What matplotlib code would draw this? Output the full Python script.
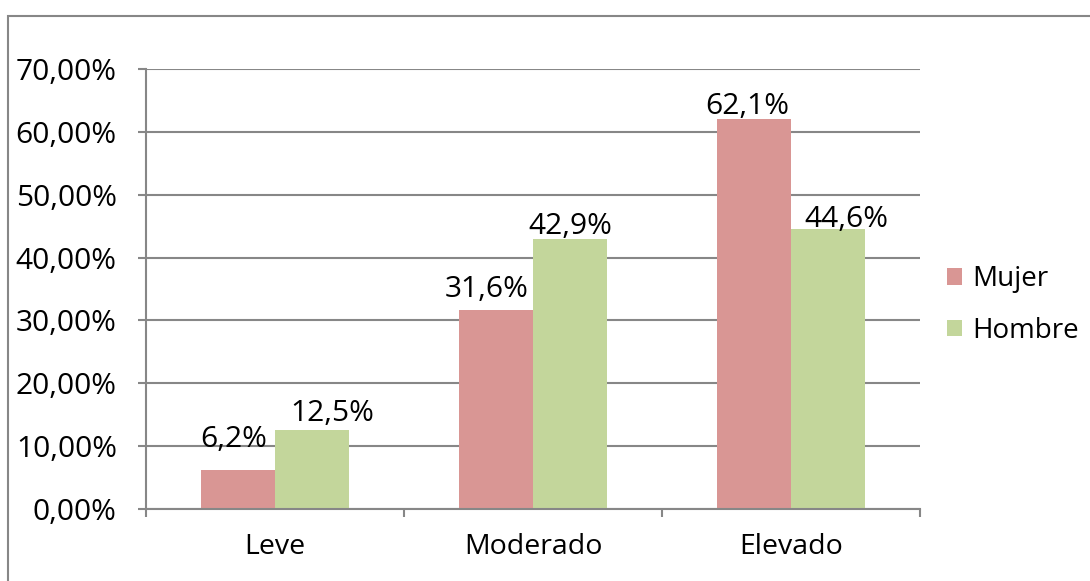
import matplotlib
matplotlib.use("Agg")
import matplotlib.pyplot as plt
from matplotlib.patches import Rectangle
from matplotlib.ticker import FixedLocator

# nivel de riesgo por sexo (%)
categorias = ["Leve", "Moderado", "Elevado"]
mujer = [6.2, 31.6, 62.1]
hombre = [12.5, 42.9, 44.6]
etiquetas_mujer = ["6,2%", "31,6%", "62,1%"]
etiquetas_hombre = ["12,5%", "42,9%", "44,6%"]
yticks = [0, 10, 20, 30, 40, 50, 60, 70]

# desplazamiento de cada etiqueta (pt) respecto al centro superior de su barra
desp_mujer = [(-3, 16.5), (-6.5, 9.5), (-5, 3)]
desp_hombre = [(14.5, 6.5), (0.5, 3.5), (13, 1.5)]

plt.rcParams['font.family'] = ['Open Sans', 'DejaVu Sans']
gris = "#878787"
col_mujer = "#D99694"
col_hombre = "#C3D69B"

fig = plt.figure(figsize=(10.9, 5.81), dpi=100)
ax = fig.add_axes([146/1090, 1 - 509/581, (920 - 146)/1090, (509 - 69)/581])

# marco exterior del grafico
fig.patches.append(Rectangle((8/1090, -0.05), 1.1, 1 - 16/581 + 0.05,
                             transform=fig.transFigure, fill=False,
                             edgecolor=gris, linewidth=1.5, clip_on=False))

x = [i + 0.5 for i in range(len(categorias))]
w = 74/258
b1 = ax.bar([v - w/2 for v in x], mujer, width=w, color=col_mujer, label="Mujer")
b2 = ax.bar([v + w/2 for v in x], hombre, width=w, color=col_hombre, label="Hombre")

for rects, labs, desp in ((b1, etiquetas_mujer, desp_mujer), (b2, etiquetas_hombre, desp_hombre)):
    for r, t, d in zip(rects, labs, desp):
        ax.annotate(t, (r.get_x() + r.get_width()/2, r.get_height()),
                    xytext=d, textcoords="offset points",
                    ha="center", va="baseline", fontsize=21.5, color="black")

ax.set_xlim(0, 3)
ax.set_ylim(0, 70)
ax.yaxis.set_major_locator(FixedLocator(yticks))
ax.yaxis.set_major_formatter(lambda v, p: f"{v:.2f}".replace(".", ",") + "%")
ax.grid(axis="y", color=gris, linewidth=1.5)
ax.set_axisbelow(True)

ax.set_xticks([0, 1, 2, 3])
ax.set_xticklabels([])
ax.set_xticks(x, minor=True)
ax.set_xticklabels(categorias, minor=True)
ax.tick_params(axis="x", which="minor", length=0, pad=17, labelsize=20.5)
ax.tick_params(axis="x", which="major", length=6, width=1.5, color=gris, direction="out")
ax.tick_params(axis="y", length=6, width=1.5, color=gris, pad=15, labelsize=21.5)

for s in ("top", "right"):
    ax.spines[s].set_visible(False)
for s in ("left", "bottom"):
    ax.spines[s].set_color(gris)
    ax.spines[s].set_linewidth(1.5)

leg = fig.legend(handles=[b1, b2], loc="center left", bbox_to_anchor=(947/1090, 1 - 305/581),
                 frameon=False, fontsize=20, handlelength=0.55, handleheight=0.55,
                 handletextpad=0.35, labelspacing=0.85, borderaxespad=0, borderpad=0)

fig.savefig("out.png", dpi=100)
